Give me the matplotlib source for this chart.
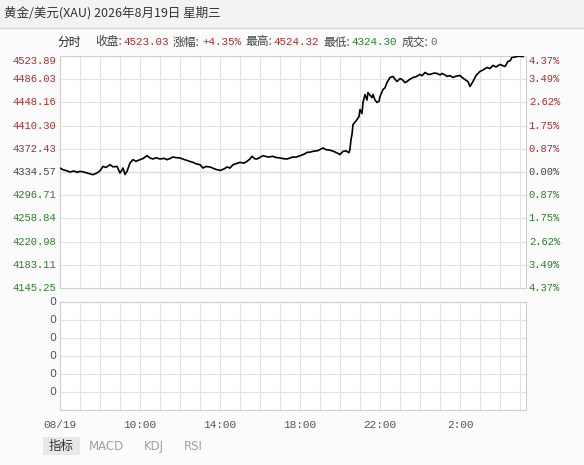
import matplotlib
matplotlib.use('Agg')
import matplotlib.pyplot as plt
from matplotlib.patches import Rectangle

W, H = 584, 465

# hours since 06:00 on 08/19 and gold price
hours = [0.0, 0.15, 0.3, 0.5, 0.7, 0.85, 1.0, 1.15, 1.35, 1.5, 1.65, 1.85, 2.0, 2.15, 2.3,
         2.5, 2.65, 2.85, 3.0, 3.1, 3.15, 3.25, 3.35, 3.5, 3.65, 3.8, 4.0, 4.15, 4.35, 4.5,
         4.65, 4.8, 5.0, 5.2, 5.35, 5.5, 5.65, 5.8, 6.0, 6.2, 6.35, 6.5, 6.65, 6.8, 7.0,
         7.15, 7.3, 7.5, 7.7, 7.85, 8.0, 8.2, 8.35, 8.5, 8.65, 8.8, 9.0, 9.2, 9.35, 9.5,
         9.6, 9.75, 9.85, 10.0, 10.15, 10.4, 10.65, 10.8, 11.0, 11.2, 11.35, 11.5, 11.65,
         11.8, 12.0, 12.2, 12.35, 12.5, 12.65, 12.9, 13.15, 13.3, 13.5, 13.7, 13.85, 14.0,
         14.15, 14.3, 14.45, 14.5, 14.55, 14.6, 14.65, 14.75, 14.85, 14.95, 15.0, 15.1,
         15.15, 15.25, 15.35, 15.4, 15.5, 15.6, 15.65, 15.75, 15.85, 15.95, 16.0, 16.15,
         16.25, 16.35, 16.5, 16.65, 16.75, 16.85, 17.0, 17.1, 17.25, 17.35, 17.5, 17.65,
         17.8, 18.0, 18.1, 18.25, 18.4, 18.5, 18.7, 18.85, 19.0, 19.1, 19.25, 19.35, 19.5,
         19.65, 19.8, 20.0, 20.1, 20.25, 20.4, 20.5, 20.65, 20.8, 21.0, 21.15, 21.35,
         21.5, 21.65, 21.8, 22.0, 22.15, 22.25, 22.4, 22.5, 22.6, 22.75, 22.85, 23.0, 23.15]
price = [4341.1, 4338.3, 4337.0, 4334.6, 4336.2, 4334.0, 4335.6, 4334.8, 4333.0, 4331.8,
         4330.2, 4333.0, 4336.5, 4343.7, 4342.0, 4346.5, 4343.0, 4343.7, 4333.0, 4338.0,
         4341.1, 4330.5, 4335.6, 4349.3, 4354.7, 4352.0, 4354.7, 4356.5, 4361.2, 4357.5,
         4355.8, 4357.8, 4355.8, 4356.9, 4354.7, 4356.5, 4359.1, 4358.0, 4357.5, 4355.0,
         4353.5, 4351.8, 4350.3, 4348.0, 4346.5, 4341.1, 4343.5, 4342.8, 4340.0, 4338.3,
         4337.2, 4339.5, 4342.8, 4341.0, 4346.5, 4348.2, 4350.3, 4349.0, 4351.9, 4356.0,
         4360.1, 4356.0, 4355.8, 4358.5, 4361.2, 4359.0, 4360.1, 4358.2, 4357.5, 4356.2,
         4355.8, 4357.5, 4359.1, 4358.8, 4361.2, 4363.5, 4366.6, 4367.0, 4368.3, 4369.5,
         4373.8, 4371.0, 4370.2, 4368.0, 4365.7, 4363.0, 4368.3, 4369.0, 4366.0, 4372.2,
         4387.4, 4396.0, 4412.0, 4416.0, 4420.1, 4425.0, 4436.5, 4430.0, 4448.0, 4461.0,
         4452.0, 4464.3, 4460.0, 4456.1, 4461.0, 4452.0, 4448.0, 4450.0, 4457.8, 4469.2,
         4472.0, 4480.7, 4488.8, 4490.5, 4486.0, 4482.3, 4487.0, 4485.6, 4480.5, 4482.3,
         4486.0, 4488.8, 4490.0, 4493.8, 4491.5, 4497.0, 4494.0, 4493.8, 4496.0, 4495.4,
         4493.0, 4495.4, 4493.0, 4490.5, 4492.0, 4488.8, 4491.0, 4492.1, 4489.0, 4485.6,
         4482.0, 4474.1, 4482.3, 4492.0, 4498.7, 4501.0, 4505.2, 4503.5, 4508.5, 4506.0,
         4510.1, 4508.0, 4506.8, 4515.0, 4516.0, 4521.6, 4522.0, 4523.2, 4523.5, 4523.03]

base = 4334.57
levels = [4145.25, 4183.11, 4220.98, 4258.84, 4296.71, 4334.57,
          4372.43, 4410.30, 4448.16, 4486.03, 4523.89]
pct_labels = ['4.37%', '3.49%', '2.62%', '1.75%', '0.87%', '0.00%',
              '0.87%', '1.75%', '2.62%', '3.49%', '4.37%']
time_ticks = [0, 4, 8, 12, 16, 20]
time_labels = ['08/19', '10:00', '14:00', '18:00', '22:00', '2:00']
ind_levels = [1, 2, 3, 4, 5, 6]
buttons = ['MACD', 'KDJ', 'RSI']

RED = '#a8322f'
GREEN = '#2f7d32'
GRAY = '#444444'
GRID = '#e2e2e2'
SPINE = '#cfcfcf'
CJK = ['Noto Sans CJK SC', 'DejaVu Sans']
MONO = 'Liberation Mono'

fig = plt.figure(figsize=(W / 100, H / 100), dpi=100, facecolor='#fbfbfb')


def fx(x):
    return x / W


def fy(y):
    return 1 - y / H


# title strip
fig.patches.append(Rectangle((0, fy(28)), 1, 28 / H, transform=fig.transFigure,
                             facecolor='#f3f3f3', edgecolor='none', zorder=0))
fig.add_artist(plt.Line2D([0, 1], [fy(28), fy(28)], transform=fig.transFigure,
                          color='#d6d6d6', lw=1))
fig.text(fx(4), fy(13), '黄金/美元(XAU) 2026年8月19日 星期三', family=CJK, fontsize=9,
         color='#333333', va='center', ha='left')

# info line
info = [(57, '分时', '#222222'), (95, '收盘:', '#444444'), (123, '4523.03', RED),
        (173, '涨幅:', '#444444'), (202, '+4.35%', RED), (245, '最高:', '#444444'),
        (273, '4524.32', RED), (323, '最低:', '#444444'), (352, '4324.30', GREEN),
        (402, '成交:', '#444444'), (430, '0', '#666666')]
for x, s, c in info:
    if s[0].isdigit() or s[0] == '+':
        fig.text(fx(x), fy(42), s, family=MONO, fontsize=7.8, color=c,
                 va='center', ha='left')
    else:
        fig.text(fx(x), fy(42), s, family=CJK, fontsize=8.5, color=c,
                 va='center', ha='left')

# main price panel
ax = fig.add_axes([fx(60), fy(288), (526 - 60) / W, (288 - 56) / H])
ax.set_facecolor('#ffffff')
ax.plot(hours, price, color='black', lw=1.2, zorder=3)
ax.set_xlim(0, 23.3)
ax.set_ylim(levels[0], levels[-1])
ax.set_xticks(range(24))
ax.set_yticks(levels)
ax.grid(True, color=GRID, lw=0.8)
ax.axhline(base, color='#cfcfcf', lw=1.0, zorder=1)
ax.tick_params(length=0, labelbottom=False, labelleft=False)
for s in ax.spines.values():
    s.set_color(SPINE)
    s.set_linewidth(0.8)

ytr = ax.get_yaxis_transform()
for i, (lv, pl) in enumerate(zip(levels, pct_labels)):
    if lv > base:
        c = RED
    elif lv < base:
        c = GREEN
    else:
        c = GRAY
    va = 'top' if i == len(levels) - 1 else 'center'
    ax.text(-0.008, lv, f'{lv:.2f}', transform=ytr, ha='right', va=va,
            family=MONO, fontsize=7.6, color=c)
    ax.text(1.006, lv, pl, transform=ytr, ha='left', va=va,
            family=MONO, fontsize=7.6, color=c)

# indicator panel
ax2 = fig.add_axes([fx(60), fy(410), (526 - 60) / W, (410 - 302) / H])
ax2.set_facecolor('#ffffff')
ax2.set_xlim(0, 23.3)
ax2.set_ylim(0, 6)
ax2.set_xticks(range(24))
ax2.set_yticks(range(7))
ax2.grid(True, color=GRID, lw=0.8)
ax2.tick_params(length=0, labelbottom=False, labelleft=False)
for s in ax2.spines.values():
    s.set_color(SPINE)
    s.set_linewidth(0.8)
ytr2 = ax2.get_yaxis_transform()
for lv in ind_levels:
    ax2.text(-0.008, lv, '0', transform=ytr2, ha='right', va='center',
             family='DejaVu Sans', fontsize=8, color='#555555')

xtr = ax2.get_xaxis_transform()
for t, lab in zip(time_ticks, time_labels):
    ax2.text(t, -15 / 108, lab, transform=xtr, ha='center', va='center',
             family=MONO, fontsize=8, color='#555555')

# indicator buttons
fig.patches.append(Rectangle((fx(43), fy(455)), 37 / W, 18 / H, transform=fig.transFigure,
                             facecolor='#e8e8e8', edgecolor='none'))
fig.text(fx(61.5), fy(446), '指标', family=CJK, fontsize=9, color='#333333',
         ha='center', va='center')
for x, b in zip([106, 154, 193], buttons):
    fig.text(fx(x), fy(446), b, family='DejaVu Sans', fontsize=8.5, color='#a0a0a0',
             ha='center', va='center')

fig.savefig('out.png', dpi=100, facecolor=fig.get_facecolor())
